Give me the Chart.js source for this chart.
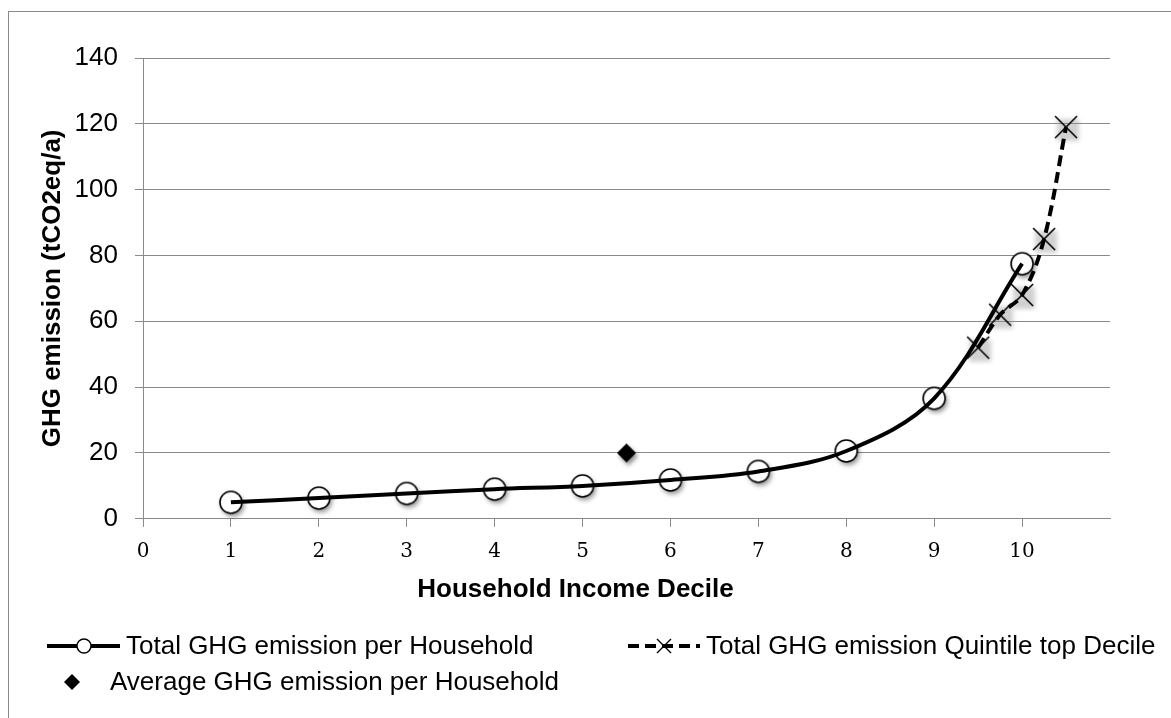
<!DOCTYPE html>
<html>
<head>
<meta charset="utf-8">
<script src="https://cdn.jsdelivr.net/npm/chart.js@4.4.1/dist/chart.umd.min.js"></script>
<style>
  html, body { margin: 0; padding: 0; background: #fff; }
  canvas { display: block; }
</style>
</head>
<body>
<canvas id="chart" width="1171" height="718"></canvas>
<script>
// Household income deciles and emissions (tCO2eq per year)
const deciles = [1, 2, 3, 4, 5, 6, 7, 8, 9, 10];
const totalPerHousehold = [5.0, 6.3, 7.7, 9.0, 10.0, 11.8, 14.4, 20.6, 36.6, 77.5];
const quintilePositions = [9.5, 9.75, 10, 10.25, 10.5];
const quintileTopDecile = [52, 62, 68, 85, 119];
const averagePosition = [5.5];
const averagePerHousehold = [20];
const xTickLabels = ['0', '1', '2', '3', '4', '5', '6', '7', '8', '9', '10'];
const yTickLabels = ['0', '20', '40', '60', '80', '100', '120', '140'];

const SANS = '"Liberation Sans", Arial, Helvetica, sans-serif';
const SERIF = '"DejaVu Serif", "Liberation Serif", serif';
const GRID = '#8a8a8a';

function toPoints(xs, ys) {
  return xs.map((x, i) => ({ x: x, y: ys[i] }));
}

// ---- marker images -------------------------------------------------------
function markerCanvas(size) {
  const c = document.createElement('canvas');
  c.width = size; c.height = size;
  return c;
}

function circleMarker(r, lw, shadow) {
  const S = Math.ceil((r + 8) * 2);
  const c = markerCanvas(S), g = c.getContext('2d');
  const m = S / 2;
  if (shadow) {
    g.shadowColor = 'rgba(0,0,0,0.45)';
    g.shadowBlur = 5; g.shadowOffsetX = 2; g.shadowOffsetY = 3;
  }
  g.beginPath(); g.arc(m, m, r, 0, Math.PI * 2);
  g.fillStyle = '#fff'; g.fill();
  g.shadowColor = 'transparent';
  g.lineWidth = lw; g.strokeStyle = '#000'; g.stroke();
  return c;
}

function crossMarker(h, lw, shadow) {
  const S = Math.ceil((h + 10) * 2);
  const c = markerCanvas(S), g = c.getContext('2d');
  const m = S / 2;
  if (shadow) {
    g.save();
    g.filter = 'blur(2px)';
    g.fillStyle = 'rgba(140,140,140,0.40)';
    g.fillRect(m - h + 2, m - h + 3, 2 * h, 2 * h);
    g.restore();
  }
  g.beginPath();
  g.moveTo(m - h, m - h); g.lineTo(m + h, m + h);
  g.moveTo(m + h, m - h); g.lineTo(m - h, m + h);
  g.lineWidth = lw; g.strokeStyle = '#000'; g.lineCap = 'butt'; g.stroke();
  return c;
}

function diamondMarker(h, shadow) {
  const S = Math.ceil((h + 8) * 2);
  const c = markerCanvas(S), g = c.getContext('2d');
  const m = S / 2;
  if (shadow) {
    g.shadowColor = 'rgba(0,0,0,0.45)';
    g.shadowBlur = 4; g.shadowOffsetX = 2; g.shadowOffsetY = 3;
  }
  g.beginPath();
  g.moveTo(m, m - h); g.lineTo(m + h, m); g.lineTo(m, m + h); g.lineTo(m - h, m);
  g.closePath(); g.fillStyle = '#000'; g.fill();
  return c;
}

const circleImg = circleMarker(11, 1.6, true);
const crossImg = crossMarker(11, 1.6, true);
const diamondImg = diamondMarker(9.5, true);
const legendCircle = circleMarker(7, 1.4, false);
const legendCross = crossMarker(7, 1.4, false);
const legendDiamond = diamondMarker(8, false);

// ---- plugins ---------------------------------------------------------------
const frame = {
  id: 'frame',
  beforeDraw(chart) {
    const ctx = chart.ctx;
    ctx.save();
    ctx.fillStyle = '#fff';
    ctx.fillRect(0, 0, chart.width, chart.height);
    ctx.strokeStyle = '#8a8a8a';
    ctx.lineWidth = 1;
    ctx.strokeRect(8.5, 11.5, chart.width + 20, chart.height + 20);
    ctx.restore();
  }
};

const seriesLegend = {
  id: 'seriesLegend',
  afterDraw(chart, args, opts) {
    const ctx = chart.ctx;
    ctx.save();
    ctx.font = '26px ' + SANS;
    ctx.fillStyle = '#000';
    ctx.textBaseline = 'middle';
    ctx.textAlign = 'left';
    for (const item of opts.items) {
      const ds = chart.data.datasets[item.dataset];
      if (item.lineFrom !== undefined) {
        ctx.save();
        ctx.beginPath();
        ctx.setLineDash(ds.borderDash || []);
        ctx.lineWidth = ds.borderWidth;
        ctx.strokeStyle = ds.borderColor;
        ctx.moveTo(item.lineFrom, item.y);
        ctx.lineTo(item.lineTo, item.y);
        ctx.stroke();
        ctx.restore();
      }
      const img = item.marker;
      ctx.drawImage(img, item.markerX - img.width / 2, item.y - img.height / 2);
      ctx.fillText(ds.label, item.textX, item.y + 1);
    }
    ctx.restore();
  }
};

// ---- chart -----------------------------------------------------------------
const ctx = document.getElementById('chart').getContext('2d');

new Chart(ctx, {
  type: 'scatter',
  data: {
    datasets: [
      { // markers, drawn beneath the curve
        label: 'Total GHG emission per Household',
        data: toPoints(deciles, totalPerHousehold),
        showLine: false,
        pointStyle: circleImg,
        pointRadius: 12,
        order: 3
      },
      {
        label: 'Total GHG emission per Household',
        data: toPoints(deciles, totalPerHousehold),
        showLine: true,
        borderColor: '#000',
        borderWidth: 4,
        tension: 0.35,
        pointRadius: 0,
        order: 1
      },
      {
        label: 'Total GHG emission Quintile top Decile',
        data: toPoints(quintilePositions, quintileTopDecile),
        showLine: false,
        pointStyle: crossImg,
        pointRadius: 12,
        order: 3
      },
      {
        label: 'Total GHG emission Quintile top Decile',
        data: toPoints(quintilePositions, quintileTopDecile),
        showLine: true,
        borderColor: '#000',
        borderWidth: 4,
        borderDash: [11, 6],
        tension: 0.35,
        pointRadius: 0,
        order: 1
      },
      {
        label: 'Average GHG emission per Household',
        data: toPoints(averagePosition, averagePerHousehold),
        showLine: false,
        pointStyle: diamondImg,
        pointRadius: 10,
        order: 2
      }
    ]
  },
  options: {
    responsive: false,
    animation: false,
    clip: false,
    layout: {
      autoPadding: false,
      padding: { left: 41, right: 61, top: 58, bottom: 113 }
    },
    plugins: {
      legend: { display: false },
      tooltip: { enabled: false },
      title: {
        display: true,
        position: 'bottom',
        text: 'Household Income Decile',
        color: '#000',
        font: { family: SANS, size: 26, weight: 'bold' },
        padding: { top: 5, bottom: 0 }
      },
      seriesLegend: {
        items: [
          { dataset: 1, lineFrom: 47, lineTo: 120, markerX: 84, marker: legendCircle, textX: 126, y: 646 },
          { dataset: 3, lineFrom: 628, lineTo: 700, markerX: 664, marker: legendCross, textX: 706, y: 646 },
          { dataset: 4, markerX: 72, marker: legendDiamond, textX: 110, y: 682 }
        ]
      }
    },
    scales: {
      x: {
        type: 'linear',
        min: 0,
        max: 11,
        afterFit(scale) { scale.height = 50; },
        border: { display: true, color: GRID, width: 1 },
        grid: { drawOnChartArea: false, drawTicks: true, tickLength: 8, color: GRID, lineWidth: 1 },
        ticks: {
          stepSize: 1,
          padding: 13,
          color: '#000',
          font: { family: SERIF, size: 20 },
          callback: (v) => (Number.isInteger(v) && v < xTickLabels.length) ? xTickLabels[v] : null
        }
      },
      y: {
        type: 'linear',
        min: 0,
        max: 140,
        afterFit(scale) { scale.width = 102; },
        border: { display: true, color: GRID, width: 1 },
        grid: { drawOnChartArea: true, drawTicks: true, tickLength: 8, color: GRID, lineWidth: 1 },
        ticks: {
          stepSize: 20,
          padding: 17,
          color: '#000',
          font: { family: SANS, size: 26 },
          callback: (v) => yTickLabels[v / 20]
        },
        title: {
          display: true,
          text: 'GHG emission (tCO2eq/a)',
          color: '#000',
          font: { family: SANS, size: 26, weight: 'bold' },
          padding: { top: -4, bottom: 0 }
        }
      }
    }
  },
  plugins: [frame, seriesLegend]
});
</script>
</body>
</html>
